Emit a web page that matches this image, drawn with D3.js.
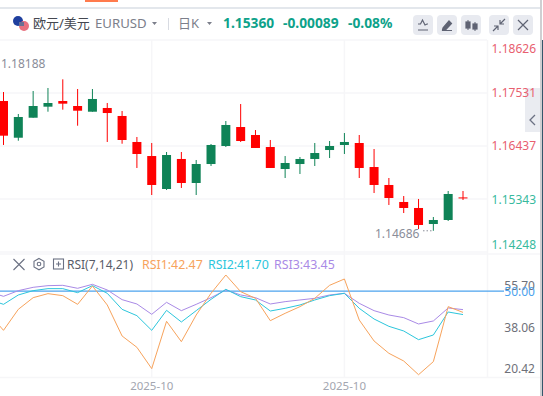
<!DOCTYPE html>
<html>
<head>
<meta charset="utf-8">
<script src="https://cdn.jsdelivr.net/npm/d3@7"></script>
<style>
html, body { margin: 0; padding: 0; background: #fff; overflow: hidden; }
svg { display: block; font-family: "Noto Sans", "Noto Sans CJK SC", sans-serif; }
</style>
</head>
<body>
<div id="chart"></div>
<script>
// Datos (velas diarias EURUSD)
const open = [1.17366,1.16608,1.17021,1.17249,1.17366,1.17263,1.17145,1.17222,1.17057,1.16520,1.16230,1.15549,1.16169,1.15673,1.16065,1.16437,1.16829,1.16664,1.16416,1.15962,1.16065,1.16169,1.16354,1.16458,1.16499,1.16003,1.15632,1.15281,1.15157,1.14826,1.14909,1.15375];
const high = [1.17552,1.17098,1.17573,1.17635,1.17814,1.17614,1.17614,1.17325,1.17160,1.16623,1.16499,1.16313,1.16313,1.16148,1.16478,1.16953,1.17304,1.16767,1.16561,1.16230,1.16210,1.16499,1.16540,1.16705,1.16664,1.16375,1.15776,1.15404,1.15343,1.14971,1.15508,1.15508];
const low = [1.16458,1.16546,1.17021,1.17145,1.17187,1.16856,1.17145,1.16520,1.16484,1.15983,1.15425,1.15528,1.15570,1.15425,1.16024,1.16416,1.16520,1.16396,1.15983,1.15776,1.15859,1.16024,1.16189,1.16272,1.15776,1.15466,1.15219,1.15053,1.14723,1.14686,1.14888,1.15322];
const close = [1.16650,1.17036,1.17263,1.17325,1.17311,1.17166,1.17408,1.17118,1.16561,1.16272,1.15632,1.16251,1.15673,1.16065,1.16458,1.16871,1.16540,1.16396,1.15983,1.16086,1.16169,1.16292,1.16437,1.16520,1.15983,1.15632,1.15363,1.15157,1.14806,1.14909,1.15446,1.15360];

// RSI: el primer valor es de la vela anterior, que queda fuera de la vista
const rsi1 = [42.14,36.12,43.55,47.68,49.10,48.39,45.32,51.81,45.09,34.12,30.11,22.56,39.31,32.11,41.55,49.22,55.70,49.81,47.45,39.54,42.14,44.50,47.45,52.05,54.29,39.78,32.35,27.99,25.27,20.42,25.04,44.50,42.47];
const rsi2 = [47.09,45.32,48.63,50.16,50.87,50.87,49.45,51.93,49.22,43.55,41.31,36.12,43.20,39.07,43.08,47.09,50.63,48.04,46.86,42.96,43.91,45.09,46.86,48.39,49.22,43.91,40.13,37.54,35.89,32.82,34.47,42.61,41.70];
const rsi3 = [49.81,48.15,50.16,51.34,51.93,52.05,50.99,52.40,50.40,46.98,45.44,41.79,46.03,43.08,45.32,47.68,50.40,48.63,47.68,45.44,46.27,46.86,47.45,48.63,49.22,45.68,43.08,41.55,40.61,38.37,39.43,44.03,43.45];

const priceTicks = [1.18626,1.17531,1.16437,1.15343,1.14248];
const rsiTicks = [55.70,38.06,20.42];
const rsiRef = 50.00;
const dateTicks = [10,23];
const dateLabel = "2025-10";
const lowMark = 1.14686;
const highMark = 1.18188;

const width = 543, height = 396;
const red = "#ff0000", green = "#0f8357";
const cOrange = "#f7a35c", cCyan = "#2cc6dc", cPurple = "#a98ae6", cBlue = "#4da3ee";

const svg = d3.select("#chart").append("svg").attr("width", width).attr("height", height);

// Fondo de la pagina a la derecha del panel
svg.append("rect").attr("width", width).attr("height", height).attr("fill", "#fff");
svg.append("rect").attr("x", 541).attr("y", 40).attr("width", 2).attr("height", 356).attr("fill", "#35566b");
svg.append("rect").attr("x", 540).attr("y", 0).attr("width", 2).attr("height", 396).attr("fill", "#cfcfd2");
svg.append("rect").attr("x", 0).attr("y", 7).attr("width", 540).attr("height", 2).attr("fill", "#e3e7ec");
svg.append("rect").attr("x", 85).attr("y", 0).attr("width", 33).attr("height", 2).attr("fill", "#ff7b4d");
svg.append("rect").attr("x", 525).attr("y", 88).attr("width", 15).attr("height", 44).attr("fill", "#eaecf1");
svg.append("path").attr("d", "M535,115 l-5,5 l5,5").attr("fill", "none").attr("stroke", "#6b7183").attr("stroke-width", 1.3);

// Escalas
const x = d3.scaleLinear().domain([0, 31]).range([3.5, 463]);
const y = d3.scaleLinear().domain([1.14248, 1.18626]).range([252, 40]);
const yRsi = d3.scaleLinear().domain([20.42, 55.70]).range([374.7, 275]);

// Rejilla
const gridColor = "#f6f6f8";
const grid = svg.append("g").attr("stroke", gridColor).attr("stroke-width", 1.5);
grid.selectAll(".h").data(priceTicks).enter().append("line")
    .attr("x1", 0).attr("x2", 487).attr("y1", d => y(d)).attr("y2", d => y(d));
grid.selectAll(".v").data(dateTicks).enter().append("line")
    .attr("x1", d => x(d)).attr("x2", d => x(d)).attr("y1", 40).attr("y2", 377);
grid.append("line").attr("x1", 487.5).attr("x2", 487.5).attr("y1", 40).attr("y2", 377);
grid.append("line").attr("x1", 0).attr("x2", 540).attr("y1", 377.5).attr("y2", 377.5);
grid.append("line").attr("x1", 0).attr("x2", 540).attr("y1", 254).attr("y2", 254);

// Velas
const idx = d3.range(open.length);
const candles = svg.append("g");
candles.selectAll(".wick").data(idx).enter().append("line")
    .attr("x1", i => x(i)).attr("x2", i => x(i))
    .attr("y1", i => y(high[i])).attr("y2", i => y(low[i]))
    .attr("stroke", i => close[i] < open[i] ? red : green)
    .attr("stroke-width", 1);
candles.selectAll(".body").data(idx).enter().append("rect")
    .attr("x", i => x(i) - 4.5)
    .attr("width", 9)
    .attr("y", i => y(Math.max(open[i], close[i])))
    .attr("height", i => Math.max(1, Math.abs(y(open[i]) - y(close[i]))))
    .attr("fill", i => close[i] < open[i] ? red : green);

// Marcas de maximo y minimo
svg.append("text").attr("x", 1).attr("y", y(highMark) + 6.5).attr("font-size", 12).attr("fill", "#8a8d99").text(highMark.toFixed(5));
svg.append("text").attr("x", 375).attr("y", y(lowMark) + 7).attr("font-size", 12).attr("fill", "#8a8d99").text(lowMark.toFixed(5));
svg.append("line").attr("x1", 423).attr("x2", x(29)).attr("y1", y(lowMark)).attr("y2", y(lowMark))
    .attr("stroke", "#8a8d99").attr("stroke-dasharray", "1.5,2");

// Eje de precios
const priceDy = [13, 4, 4, 5, -3];
const priceColor = [ "#e8606f", "#e8606f", "#e8606f", "#38ba9e", "#38ba9e" ];
svg.selectAll(".price").data(priceTicks).enter().append("text")
    .attr("x", 536).attr("text-anchor", "end").attr("font-size", 12)
    .attr("y", (d, i) => y(d) + priceDy[i])
    .attr("fill", (d, i) => priceColor[i])
    .text(d => d.toFixed(5));

// RSI
const line = d3.line().x((d, i) => x(i - 1)).y(d => yRsi(d));
svg.append("line").attr("x1", 0).attr("x2", 504).attr("y1", yRsi(rsiRef)).attr("y2", yRsi(rsiRef))
    .attr("stroke", cBlue).attr("stroke-width", 1.2);
[[rsi3, cPurple], [rsi2, cCyan], [rsi1, cOrange]].forEach(s => {
    svg.append("path").attr("d", line(s[0])).attr("fill", "none").attr("stroke", s[1]).attr("stroke-width", 1);
});
const rsiDy = [15, 7, -2];
svg.selectAll(".rsi").data(rsiTicks).enter().append("text")
    .attr("x", 535).attr("text-anchor", "end").attr("font-size", 12).attr("fill", "#6e7079")
    .attr("y", (d, i) => yRsi(d) + rsiDy[i])
    .text(d => d.toFixed(2));
svg.append("text").attr("x", 535).attr("y", yRsi(rsiRef) + 5).attr("text-anchor", "end")
    .attr("font-size", 12).attr("fill", cBlue).text(rsiRef.toFixed(2));

// Eje de fechas
svg.selectAll(".date").data(dateTicks).enter().append("text")
    .attr("x", d => x(d)).attr("y", 390).attr("text-anchor", "middle")
    .attr("font-size", 11.5).attr("fill", "#a3a6b0").text(dateLabel);

// Leyenda RSI
const legend = [["RSI(7,14,21)", 67, "#585c68", 12], ["RSI1:42.47", 142, cOrange, 12.4], ["RSI2:41.70", 208, cCyan, 12.4], ["RSI3:43.45", 274, cPurple, 12.4]];
svg.selectAll(".leg").data(legend).enter().append("text")
    .attr("x", d => d[1]).attr("y", 269).attr("font-size", d => d[3]).attr("fill", d => d[2]).text(d => d[0]);
const ico = svg.append("g").attr("fill", "none").attr("stroke", "#6b7183").attr("stroke-width", 1.1);
ico.append("path").attr("d", "M13.5,259 L24.5,270 M24.5,259 L13.5,270");
ico.append("path").attr("d", "M39,258.5 L44,261.3 L44,267 L39,269.8 L34,267 L34,261.3 Z");
ico.append("circle").attr("cx", 39).attr("cy", 264).attr("r", 1.8);
ico.append("rect").attr("x", 53.5).attr("y", 259).attr("width", 10).attr("height", 10);
ico.append("path").attr("d", "M56,264 L61,264 M58.5,261.5 L58.5,266.5");

// Cabecera
const flag = svg.append("g");
flag.append("circle").attr("cx", 18).attr("cy", 21).attr("r", 5).attr("fill", "#1f3f9e");
flag.append("circle").attr("cx", 24).attr("cy", 26).attr("r", 5).attr("fill", "#e8717f");
flag.append("rect").attr("x", 19).attr("y", 22).attr("width", 5).attr("height", 4).attr("fill", "#6a7094");
const head = [
    ["欧元/美元", 33, "#444750", 13, 400],
    ["EURUSD", 95, "#7c7f8b", 13.2, 400],
    ["日K", 178, "#7c7f8b", 13, 400],
    ["1.15360", 223, "#0ea28a", 13.8, 700],
    ["-0.00089", 283, "#0ea28a", 13.8, 700],
    ["-0.08%", 348, "#0ea28a", 13.8, 700]
];
svg.selectAll(".head").data(head).enter().append("text")
    .attr("x", d => d[1]).attr("y", 28).attr("fill", d => d[2])
    .attr("font-size", d => d[3]).attr("font-weight", d => d[4]).text(d => d[0]);
svg.append("path").attr("d", "M152,22 l5,0 l-2.5,3 Z M207,22 l5,0 l-2.5,3 Z").attr("fill", "#7c7f8b");
svg.append("line").attr("x1", 168.5).attr("x2", 168.5).attr("y1", 18).attr("y2", 30).attr("stroke", "#d8dbe2");

// Botones de la barra
const btnX = [413, 437, 461, 489, 513];
svg.selectAll(".btn").data(btnX).enter().append("rect")
    .attr("x", d => d).attr("y", 15).attr("width", 20).attr("height", 20).attr("rx", 4).attr("fill", "#e8eaf0");
const bi = svg.append("g").attr("fill", "none").attr("stroke", "#5f6373").attr("stroke-width", 1.2);
bi.append("path").attr("d", "M418,24 l2.5,0 l2,-4 l2.5,5 l2,-1 l1,0 M418,30 L428,30");
bi.append("path").attr("d", "M443,28 L449,21 L451.5,23.5 L445.5,30 L442.5,30 Z M442,30.5 L452,30.5").attr("fill", "#5f6373");
bi.append("path").attr("d", "M468,20 L468,30 M475,22 L475,31").attr("stroke-width", 1);
bi.append("rect").attr("x", 466).attr("y", 22).attr("width", 4).attr("height", 6).attr("fill", "#5f6373");
bi.append("rect").attr("x", 473).attr("y", 24).attr("width", 4).attr("height", 5).attr("fill", "#5f6373");
bi.append("path").attr("d", "M493,31 L498,26 M494,26 L498,26 L498,30 M505,19 L500,24 M500,20 L500,24 L504,24");
bi.append("path").attr("d", "M518,20 L528,30 M528,20 L518,30");
</script>
</body>
</html>
